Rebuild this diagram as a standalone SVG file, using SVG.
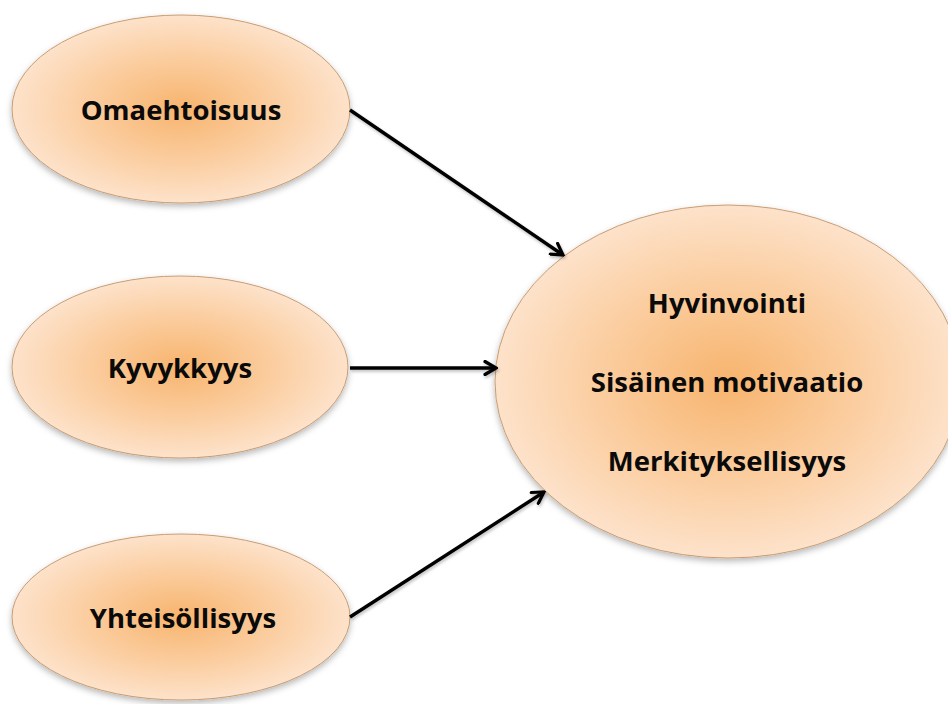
<svg xmlns="http://www.w3.org/2000/svg" width="948" height="704" viewBox="0 0 948 704">
  <defs>
    <radialGradient id="fillGrad" cx="50%" cy="50%" r="50%">
      <stop offset="0" stop-color="#f7b46e"/>
      <stop offset="0.55" stop-color="#fbcd9f"/>
      <stop offset="1" stop-color="#fde2ca"/>
    </radialGradient>
    <filter id="shadow" x="-10%" y="-10%" width="120%" height="125%">
      <feDropShadow dx="0" dy="3" stdDeviation="3" flood-color="#000" flood-opacity="0.28"/>
    </filter>
    <filter id="lineShadow" x="-10%" y="-10%" width="120%" height="130%">
      <feDropShadow dx="1" dy="2" stdDeviation="1.5" flood-color="#000" flood-opacity="0.25"/>
    </filter>
    <marker id="arrow" viewBox="0 0 16 16" refX="14" refY="8" markerWidth="16" markerHeight="16" markerUnits="userSpaceOnUse" orient="auto">
      <path d="M3,1.5 L14,8 L3,14.5" fill="none" stroke="#000" stroke-width="3.2" stroke-linecap="round" stroke-linejoin="miter"/>
    </marker>
  </defs>
  <style>
    .node { fill: url(#fillGrad); stroke: #c99d72; stroke-width: 1; filter: url(#shadow); }
    .label { font-family: "Open Sans", "Liberation Sans", sans-serif; font-weight: bold; font-size: 27.5px; fill: #0a0a0a; text-anchor: middle; }
    .conn { stroke: #000; stroke-width: 3.4; fill: none; marker-end: url(#arrow); }
  </style>
  <rect width="948" height="704" fill="#ffffff"/>

  <g id="node-omaehtoisuus">
    <ellipse class="node" cx="181" cy="109" rx="169" ry="94"/>
    <text class="label" x="181" y="120">Omaehtoisuus</text>
  </g>

  <g id="node-kyvykkyys">
    <ellipse class="node" cx="180" cy="367" rx="168" ry="91"/>
    <text class="label" x="180" y="378">Kyvykkyys</text>
  </g>

  <g id="node-yhteisollisyys">
    <ellipse class="node" cx="181" cy="617" rx="169" ry="83"/>
    <text class="label" x="183" y="628">Yhteisöllisyys</text>
  </g>

  <g id="node-outcome">
    <ellipse class="node" cx="728" cy="381.5" rx="233" ry="176.5"/>
    <text class="label" x="727" y="313">Hyvinvointi</text>
    <text class="label" x="727" y="392">Sisäinen motivaatio</text>
    <text class="label" x="727" y="471">Merkityksellisyys</text>
  </g>

  <g id="connectors" filter="url(#lineShadow)">
    <line class="conn" x1="350" y1="110" x2="563" y2="255"/>
    <line class="conn" x1="350" y1="368" x2="496" y2="368"/>
    <line class="conn" x1="350" y1="617" x2="544" y2="492"/>
  </g>
</svg>
